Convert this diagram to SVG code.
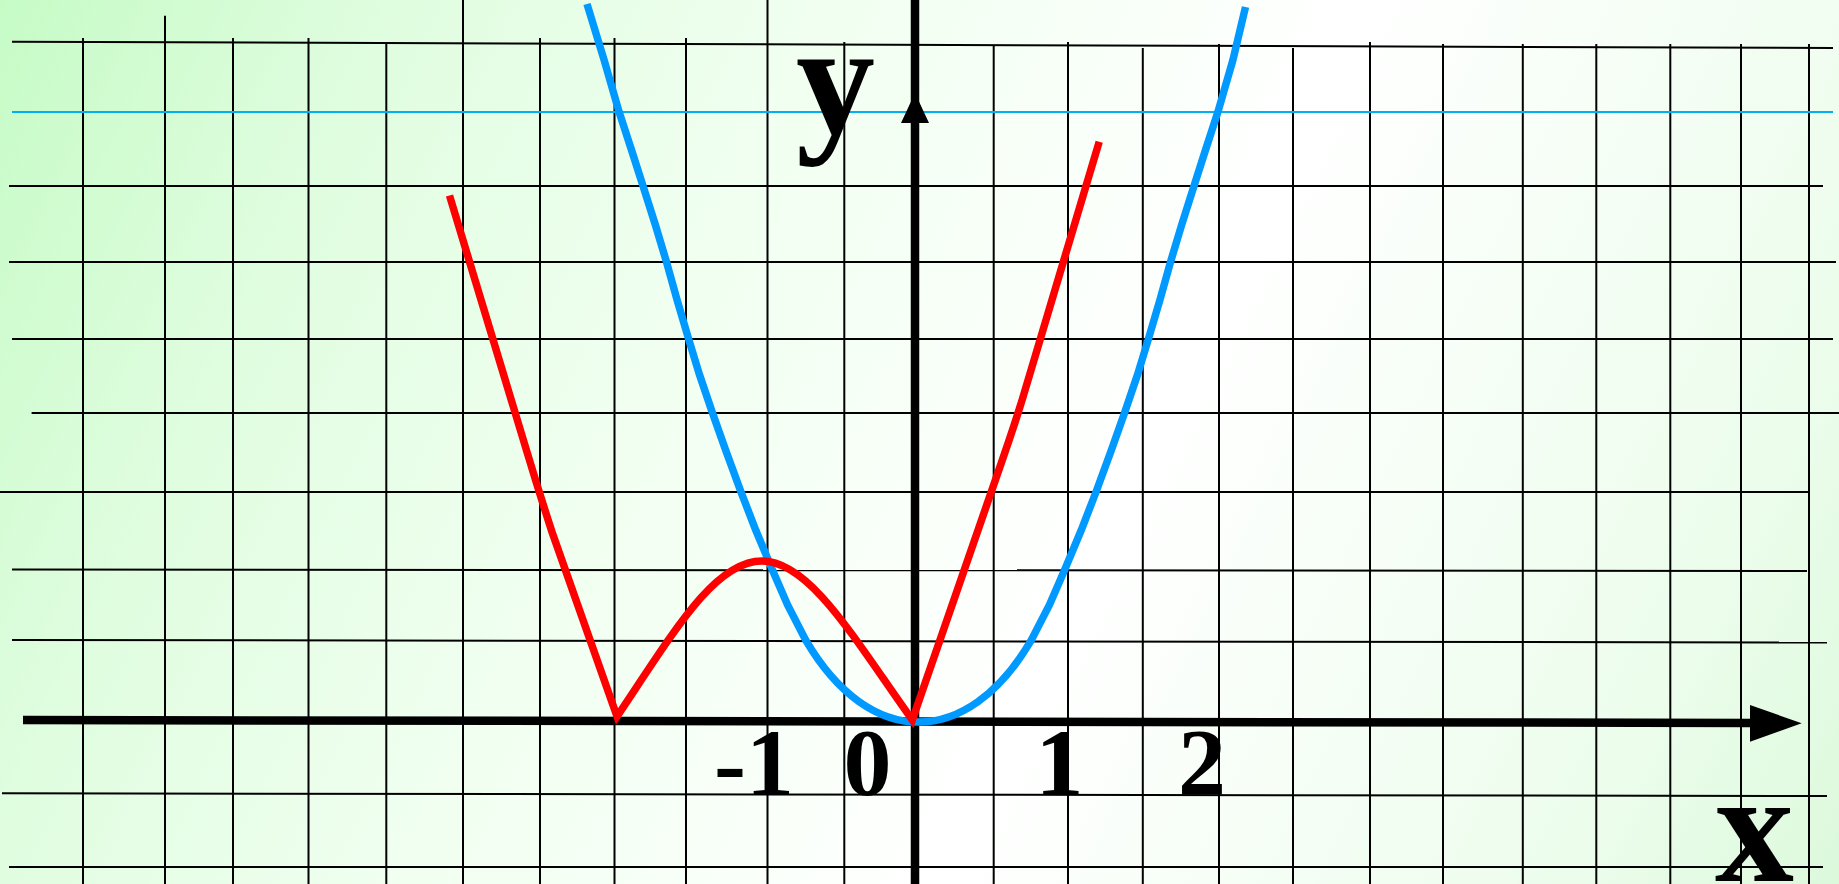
<svg xmlns="http://www.w3.org/2000/svg" width="1839" height="884" viewBox="0 0 1839 884">
<defs>
<linearGradient id="bg" gradientUnits="userSpaceOnUse" x1="0" y1="0" x2="1839" y2="884">
<stop offset="0" stop-color="#c6fbc6"/>
<stop offset="0.18" stop-color="#e0fde0"/>
<stop offset="0.36" stop-color="#f0fff0"/>
<stop offset="0.6" stop-color="#ffffff"/>
<stop offset="0.88" stop-color="#ecfdec"/>
<stop offset="1" stop-color="#dcf9dc"/>
</linearGradient>
<style>
.g{stroke:#000;stroke-width:2;fill:none}
.ax{stroke:#000;stroke-width:8.5;fill:none}
.lbl{font-family:"Liberation Serif","Times New Roman",serif;font-weight:bold;fill:#000}
.curve{fill:none;stroke-width:7.5;stroke-linecap:butt;stroke-linejoin:miter}
</style>
</defs>
<rect id="background" x="0" y="0" width="1839" height="884" fill="url(#bg)"/>
<g id="grid" class="g">
<line x1="12" y1="41.7" x2="1833" y2="48"/>
<line x1="9" y1="186" x2="1823" y2="186"/>
<line x1="9" y1="262" x2="1836" y2="262"/>
<line x1="12" y1="339" x2="1833" y2="339"/>
<line x1="31.6" y1="413" x2="1839" y2="413"/>
<line x1="0" y1="492" x2="1809" y2="492"/>
<line x1="12" y1="569.5" x2="1807" y2="571"/>
<line x1="12" y1="640" x2="1827" y2="642.5"/>
<line x1="2" y1="793.3" x2="1827" y2="796"/>
<line x1="9" y1="867" x2="1823" y2="867"/>
<line x1="83" y1="38" x2="83" y2="884"/>
<line x1="165" y1="15.7" x2="165" y2="884"/>
<line x1="233" y1="38" x2="233" y2="884"/>
<line x1="308.5" y1="38" x2="308.5" y2="884"/>
<line x1="386.3" y1="42" x2="386.3" y2="884"/>
<line x1="463" y1="0" x2="463" y2="884"/>
<line x1="540" y1="38" x2="540" y2="884"/>
<line x1="614.5" y1="38" x2="614.5" y2="884"/>
<line x1="686" y1="38" x2="686" y2="884"/>
<line x1="767.5" y1="0" x2="767.5" y2="884"/>
<line x1="844.3" y1="42" x2="844.3" y2="884"/>
<line x1="993.7" y1="45.7" x2="993.7" y2="884"/>
<line x1="1068" y1="42" x2="1068" y2="884"/>
<line x1="1142.8" y1="48" x2="1142.8" y2="884"/>
<line x1="1219" y1="44" x2="1219" y2="884"/>
<line x1="1293" y1="48" x2="1293" y2="884"/>
<line x1="1370" y1="42" x2="1370" y2="884"/>
<line x1="1443" y1="44" x2="1443" y2="884"/>
<line x1="1522.8" y1="44" x2="1522.8" y2="884"/>
<line x1="1596.3" y1="44" x2="1596.3" y2="884"/>
<line x1="1670.3" y1="44" x2="1670.3" y2="884"/>
<line x1="1741" y1="44" x2="1741" y2="884"/>
<line x1="1809" y1="44" x2="1809" y2="884"/>
</g>
<line id="level-line" x1="12" y1="112" x2="1833" y2="112" stroke="#00b0f0" stroke-width="2.2"/>
<g id="axes">
<line class="ax" x1="915" y1="0" x2="915" y2="884"/>
<polygon points="915,93 901,123 929,123" fill="#000"/>
<line class="ax" x1="23" y1="720" x2="1752" y2="723"/>
<polygon points="1750,705 1801.7,723.3 1750,741.7" fill="#000"/>
</g>
<g id="curves">
<path id="blue-curve" class="curve" stroke="#0099ff" d="M587,4 L604.1,60 L619.1,112 L631.5,150 L642.9,185.7 L655.4,225 L666.5,262 L677.1,300 L688.6,339 L699.6,375 L712.5,413 L725.6,450 L741,492 L755.7,530 L772.4,570 L787.6,605 L806,640.7 C869.8,749.2 967.2,749.2 1031,640.7 L1049.4,605 L1064.6,570 L1081.3,530 L1096,492 L1111.4,450 L1124.5,413 L1137.4,375 L1148.4,339 L1159.9,300 L1170.5,262 L1181.6,225 L1194.1,185.7 L1205.5,150 L1217.9,112 L1232.9,60 L1245.5,7" stroke-linejoin="round"/>
<path id="red-curve" class="curve" stroke="#ff0000" d="M449.5,195.5 L527,452 Q539,492 552,532 L617,716.5 C675,630 715,561 762,561 C810,561 855,640 912.3,720 L1003,458 Q1015.5,422 1023,397 L1099.2,141.7"/>
</g>
<g id="labels">
<text class="lbl" x="796" y="132.7" font-size="158">y</text>
<text class="lbl" x="1715" y="880.7" font-size="158">x</text>
<text class="lbl" x="714" y="795" font-size="96">-1</text>
<text class="lbl" x="867.5" y="795" font-size="96" text-anchor="middle">0</text>
<text class="lbl" x="1059.5" y="795" font-size="96" text-anchor="middle">1</text>
<text class="lbl" x="1202" y="795" font-size="96" text-anchor="middle">2</text>
</g>
</svg>
